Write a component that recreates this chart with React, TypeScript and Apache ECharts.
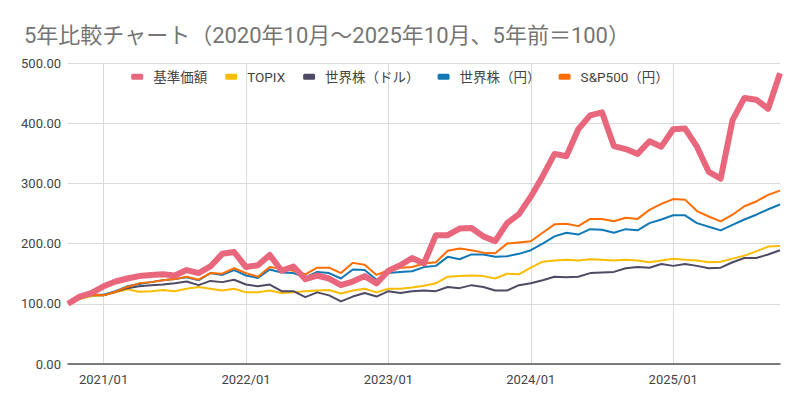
import React, { useEffect, useRef } from "react";
import * as echarts from "echarts";

const titleText = "5年比較チャート（2020年10月〜2025年10月、5年前＝100）";

const categories = [
  "2020/10", "2020/11", "2020/12",
  "2021/01", "2021/02", "2021/03", "2021/04", "2021/05", "2021/06", "2021/07", "2021/08", "2021/09", "2021/10", "2021/11", "2021/12",
  "2022/01", "2022/02", "2022/03", "2022/04", "2022/05", "2022/06", "2022/07", "2022/08", "2022/09", "2022/10", "2022/11", "2022/12",
  "2023/01", "2023/02", "2023/03", "2023/04", "2023/05", "2023/06", "2023/07", "2023/08", "2023/09", "2023/10", "2023/11", "2023/12",
  "2024/01", "2024/02", "2024/03", "2024/04", "2024/05", "2024/06", "2024/07", "2024/08", "2024/09", "2024/10", "2024/11", "2024/12",
  "2025/01", "2025/02", "2025/03", "2025/04", "2025/05", "2025/06", "2025/07", "2025/08", "2025/09", "2025/10",
];

const seriesNames = ["基準価額", "TOPIX", "世界株（ドル）", "世界株（円）", "S&P500（円）"];

const fundNav = [
  100, 112, 118, 129, 137, 142, 146, 148, 149, 147,
  156, 151, 162, 183, 186, 161, 164, 181, 155, 162,
  141, 147, 142, 131, 137, 146, 134, 155, 164, 176,
  167, 214, 214, 225, 226, 212, 204, 234, 249, 278,
  312, 349, 345, 390, 413, 418, 362, 357, 349, 370,
  361, 390, 391, 361, 319, 308, 405, 442, 439, 424, 483,
];

const topix = [
  100, 108, 113, 114, 119, 124, 120, 121, 123, 121,
  125, 128, 125, 122, 125, 119, 119, 122, 118, 119,
  121, 122, 123, 117, 122, 125, 119, 125, 125, 127,
  130, 134, 145, 146, 147, 146, 142, 150, 149, 160,
  170, 172, 173, 172, 174, 173, 172, 173, 172, 169,
  172, 175, 173, 172, 169, 170, 175, 180, 187, 195, 196,
];

const worldUsd = [
  102, 110, 114, 114, 120, 126, 129, 131, 132, 134,
  137, 131, 138, 136, 140, 132, 129, 132, 121, 121,
  111, 119, 114, 104, 112, 118, 112, 121, 118, 121,
  122, 121, 128, 126, 131, 128, 122, 122, 131, 134,
  139, 145, 144, 145, 151, 152, 153, 159, 161, 160,
  166, 163, 166, 163, 159, 160, 169, 176, 176, 182, 189,
];

const worldJpy = [
  101, 111, 115, 115, 121, 129, 133, 136, 139, 141,
  144, 139, 151, 148, 156, 147, 143, 157, 152, 151,
  144, 153, 151, 142, 157, 156, 140, 151, 153, 154,
  161, 163, 178, 174, 182, 182, 178, 179, 183, 189,
  200, 212, 218, 215, 224, 223, 218, 224, 222, 234,
  240, 247, 247, 234, 228, 222, 231, 240, 248, 257, 265,
];

const sp500Jpy = [
  100, 110, 115, 114, 120, 128, 134, 136, 139, 141,
  145, 140, 151, 150, 159, 151, 145, 161, 158, 155,
  149, 160, 160, 151, 168, 165, 148, 156, 160, 161,
  167, 169, 188, 192, 189, 185, 184, 200, 202, 204,
  218, 232, 233, 229, 241, 241, 237, 243, 241, 256,
  266, 274, 273, 254, 245, 237, 248, 262, 270, 281, 288,
];

const colors = ["#e8677d", "#fbbc04", "#4f4a64", "#1178b6", "#ff6d01"];
const FONT = "Roboto, 'Noto Sans CJK JP', sans-serif";

export default function App() {
  const ref = useRef<HTMLDivElement>(null);
  useEffect(() => {
    document.body.style.margin = "0";
    if (!ref.current) return;
    const chart = echarts.init(ref.current, undefined, { renderer: "svg" });
    const isJan = (_i: number, v: string) => String(v).endsWith("/01");
    const dataSets = [fundNav, topix, worldUsd, worldJpy, sp500Jpy];
    chart.setOption({
      animation: false,
      backgroundColor: "#ffffff",
      title: {
        text: titleText,
        left: 19,
        top: 19,
        textStyle: { fontFamily: FONT, fontSize: 22, fontWeight: "normal", color: "#757575" },
      },
      legend: {
        top: 65,
        left: "center",
        icon: "roundRect",
        itemWidth: 12,
        itemHeight: 6,
        itemGap: 18,
        textStyle: { fontFamily: FONT, fontSize: 13.5, color: "#444444", padding: [0, 0, 0, 5] },
        data: seriesNames,
      },
      grid: { left: 68, right: 20, top: 63, bottom: 41, containLabel: false },
      xAxis: {
        type: "category",
        data: categories,
        boundaryGap: false,
        axisLine: { lineStyle: { color: "#555555", width: 1.5 } },
        axisTick: { show: false },
        axisLabel: { interval: isJan, fontFamily: FONT, fontSize: 13, color: "#444444", margin: 9 },
        splitLine: { show: true, interval: isJan, lineStyle: { color: "#dadada", width: 1 } },
      },
      yAxis: {
        type: "value",
        min: 0,
        max: 500,
        interval: 100,
        axisLine: { show: false },
        axisTick: { show: false },
        axisLabel: {
          fontFamily: FONT,
          fontSize: 13,
          color: "#444444",
          margin: 7,
          formatter: (v: number) => v.toFixed(2),
        },
        splitLine: { lineStyle: { color: "#dadada", width: 1 } },
      },
      series: seriesNames.map((name, k) => ({
        name,
        type: "line",
        data: dataSets[k],
        symbol: "none",
        z: k === 0 ? 5 : 3,
        color: colors[k],
        lineStyle: { width: k === 0 ? 6 : 2, color: colors[k], join: "round" },
      })),
    });
    return () => chart.dispose();
  }, []);
  return <div ref={ref} style={{ width: 800, height: 405 }} />;
}
